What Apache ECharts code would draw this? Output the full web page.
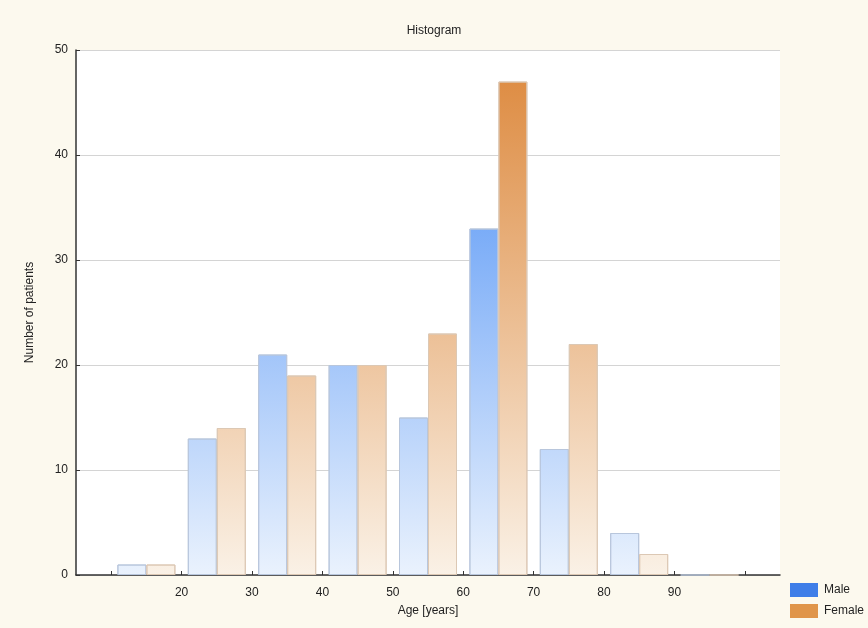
<!DOCTYPE html>
<html><head><meta charset="utf-8">
<script src="https://cdn.jsdelivr.net/npm/echarts@6/dist/echarts.min.js"></script>
<style>html,body{margin:0;background:#fcf9ee}#c{width:868px;height:628px}</style>
</head><body><div id="c"></div>
<script>
// bin centres (age) and counts
var binCentres = [15, 25, 35, 45, 55, 65, 75, 85, 95];
var maleCounts = [1, 13, 21, 20, 15, 33, 12, 4, 0];
var femaleCounts = [1, 14, 19, 20, 23, 47, 22, 2, 0];
var tickValues = [10, 20, 30, 40, 50, 60, 70, 80, 90, 100];
var labelValues = [20, 30, 40, 50, 60, 70, 80, 90];

function pairs(vals) {
    return binCentres.map(function (c, i) { return [c, vals[i]]; });
}
function grad(top, bottom) {
    return new echarts.graphic.LinearGradient(0, 80, 0, 575, [
        {offset: 0, color: top}, {offset: 1, color: bottom}
    ], true);
}

var chart = echarts.init(document.getElementById('c'));
chart.setOption({
    backgroundColor: '#fcf9ee',
    textStyle: {fontFamily: 'Liberation Sans, Arial, sans-serif'},
    title: {text: 'Histogram', left: 'center', top: 20,
        textStyle: {fontSize: 12, fontWeight: 'normal', color: '#222'}},
    grid: {left: 76, right: 88, top: 50, bottom: 53, backgroundColor: '#fff', show: true, borderWidth: 0},
    legend: {show: false},
    graphic: [
        {type: 'rect', left: 790, top: 583, shape: {width: 28, height: 14}, style: {fill: '#3f7ee8'}},
        {type: 'text', left: 824, top: 584, style: {text: 'Male', fontSize: 12, fill: '#222'}},
        {type: 'rect', left: 790, top: 604, shape: {width: 28, height: 14}, style: {fill: '#e0954a'}},
        {type: 'text', left: 824, top: 605, style: {text: 'Female', fontSize: 12, fill: '#222'}}
    ],
    xAxis: {
        type: 'value', min: 5, max: 105,
        name: 'Age [years]', nameLocation: 'middle', nameGap: 30,
        nameTextStyle: {fontSize: 12, color: '#222'},
        axisLine: {lineStyle: {color: '#333', width: 1.5}},
        axisTick: {show: true, customValues: tickValues, length: 4, inside: true, lineStyle: {color: '#333'}},
        axisLabel: {customValues: labelValues, color: '#222', fontSize: 12, margin: 12},
        splitLine: {show: false}
    },
    yAxis: {
        type: 'value', min: 0, max: 50, interval: 10,
        name: 'Number of patients', nameLocation: 'middle', nameGap: 40,
        nameTextStyle: {fontSize: 12, color: '#222'},
        axisLine: {show: true, lineStyle: {color: '#333', width: 1.5}},
        axisTick: {show: true, length: 4, inside: true},
        axisLabel: {color: '#222', fontSize: 12},
        splitLine: {lineStyle: {color: '#d4d4d4'}}
    },
    series: [
        {name: 'Male', type: 'bar', data: pairs(maleCounts), barWidth: 29, barGap: '0%',
            itemStyle: {color: grad('#4a8ef5', '#eaf2fd'), borderColor: '#b8c6dc', borderWidth: 1}},
        {name: 'Female', type: 'bar', data: pairs(femaleCounts), barWidth: 29, barGap: '0%',
            itemStyle: {color: grad('#de8d44', '#faf1e6'), borderColor: '#dcc8b4', borderWidth: 1}}
    ]
});
</script></body></html>
